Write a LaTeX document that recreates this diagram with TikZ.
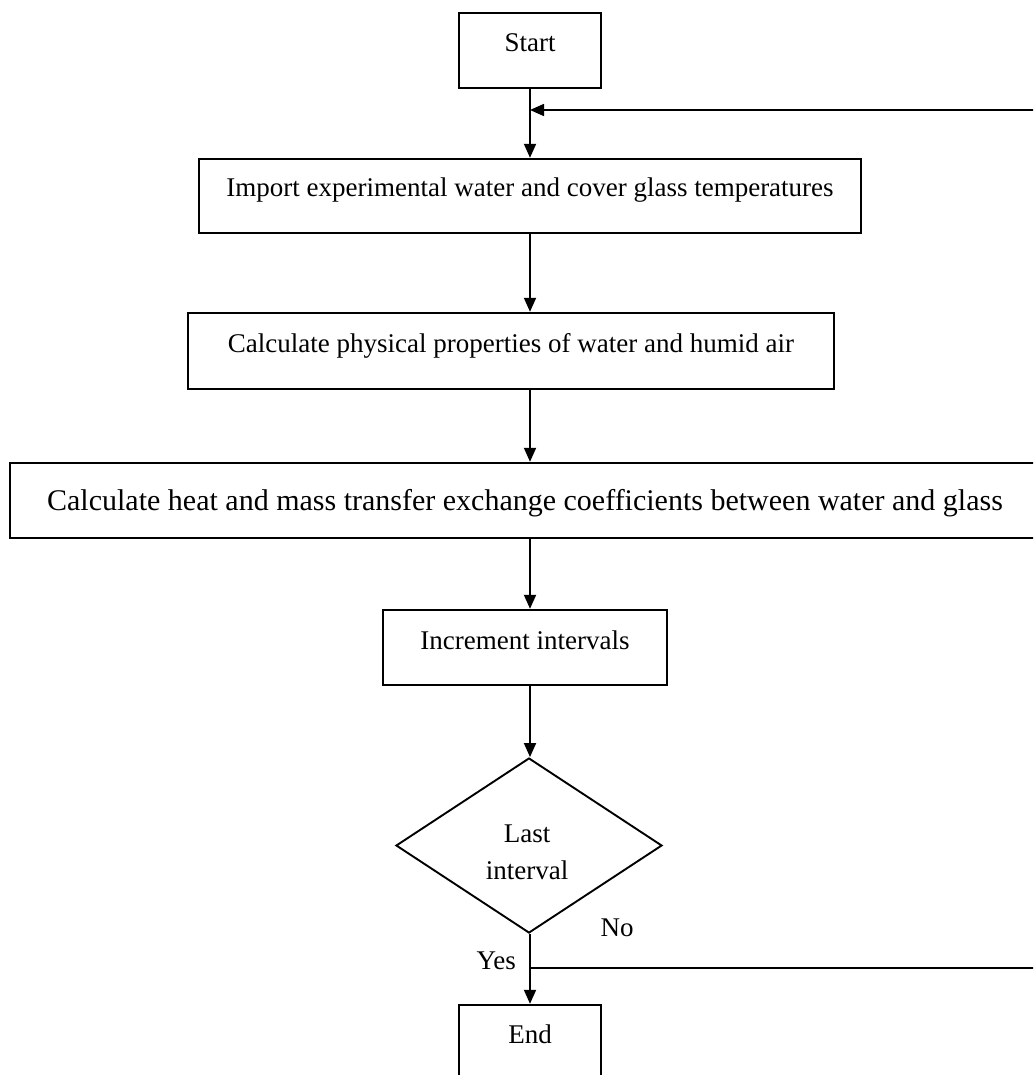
\documentclass[tikz,border=0pt]{standalone}
\usepackage{fontspec}
\setmainfont{Liberation Serif}
\usetikzlibrary{arrows.meta,shapes.geometric}
\begin{document}
\begin{tikzpicture}[x=1pt,y=-1pt,
  every node/.style={font=\fontsize{27}{37}\selectfont},
  box/.style={draw, line width=2.4pt, inner sep=0pt, anchor=center, text height=19pt},
  up/.style={text depth=#1},
  dia/.style={draw, line width=1.9pt, diamond, inner sep=0pt},
  flow/.style={line width=1.9pt, -{Triangle[length=14pt,width=12pt]}},
  lbl/.style={inner sep=0pt}]
\useasboundingbox (0,0) rectangle (1033,1075);
\clip (0,0) rectangle (1033,1075);
\node[box, up=17pt, minimum width=142pt, minimum height=75pt] (start) at (530,50.5) {Start};
\node[box, up=17pt, minimum width=662pt, minimum height=74pt] (import) at (530,196) {Import experimental water and cover glass temperatures};
\node[box, up=17pt, minimum width=646pt, minimum height=76pt] (props) at (511,351) {Calculate physical properties of water and humid air};
\node[box, font=\fontsize{30}{36}\selectfont, text height=21pt, text depth=2pt, minimum width=1030pt, minimum height=75pt] (heat) at (525,500.5) {Calculate heat and mass transfer exchange coefficients between water and glass};
\node[box, up=16pt, minimum width=284pt, minimum height=75pt] (incr) at (525,647.5) {Increment intervals};
\node[dia, minimum width=266pt, minimum height=175pt] (last) at (529,845.5) {};
\node[lbl, align=center, anchor=center] (lasttext) at (527,852) {Last\\interval};
\node[box, up=17pt, minimum width=142pt, minimum height=75pt] (end) at (530,1042.5) {End};
\node[lbl] (no) at (617,928) {No};
\node[lbl, anchor=east] (yes) at (516,961) {Yes};
\coordinate (loopin) at (530,110);
\coordinate (nojoin) at (530,968);
\draw[flow] (start.south) -- (start.south |- import.north);
\draw[flow] (import.south -| 530,0) -- (props.north -| 530,0);
\draw[flow] (props.south -| 530,0) -- (heat.north -| 530,0);
\draw[flow] (heat.south -| 530,0) -- (incr.north -| 530,0);
\draw[flow] (incr.south -| 530,0) -- (last.north -| 530,0);
\draw[flow] (last.south -| 530,0) -- (end.north);
\draw[flow, line width=1.6pt] (nojoin) -- (1050,968) -- (1050,110) -- (loopin);
\end{tikzpicture}
\end{document}
